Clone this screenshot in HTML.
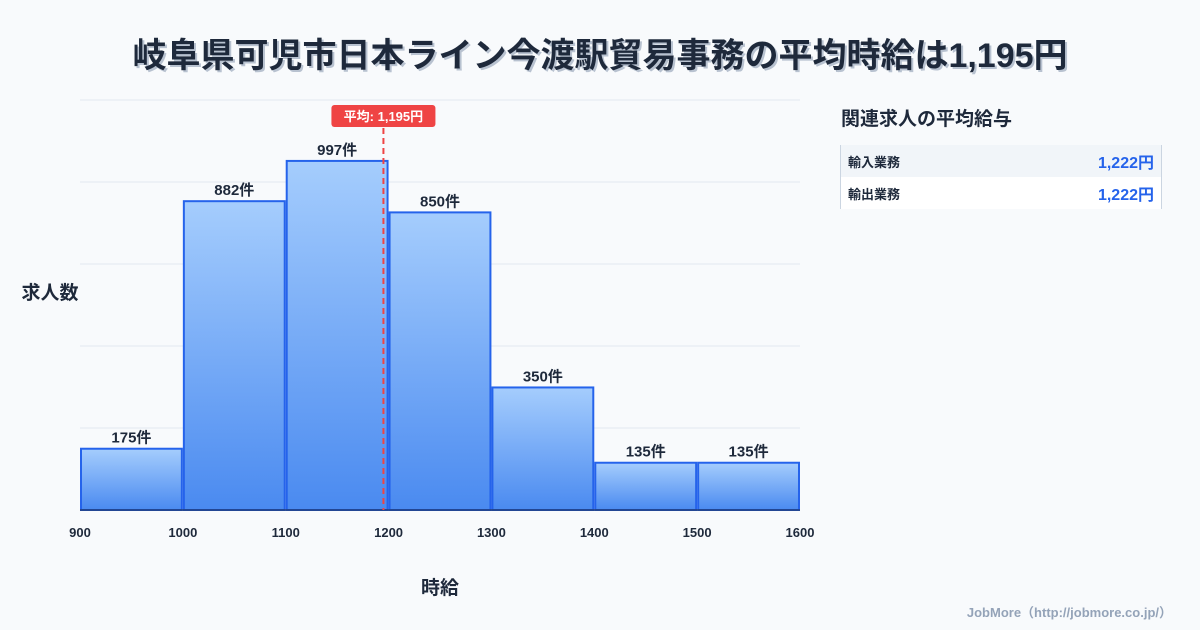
<!DOCTYPE html>
<html><head><meta charset="utf-8">
<style>
body{margin:0;width:1200px;height:630px;background:#f8fafc;font-family:"Liberation Sans","Noto Sans CJK JP",sans-serif;overflow:hidden;position:relative;color:#1e293b}
.title{position:absolute;left:0;width:1200px;top:28px;text-align:center;font-size:34px;font-weight:bold;color:#1e293b;text-shadow:2px 2px 0 #b8c2d0}
.side{position:absolute;left:841px;top:104px;font-size:19px;font-weight:bold}
.tbl{position:absolute;left:840px;top:145px;width:320px;border-left:1px solid #cbd5e1;border-right:1px solid #cbd5e1}
.row{height:32px;display:flex;justify-content:space-between;align-items:center;padding:0 7px;font-size:13px;font-weight:bold}
.row .v{color:#2563eb;font-size:16px}
.foot{position:absolute;right:28px;top:602px;font-size:13px;color:#94a3b8;font-weight:bold}
</style></head><body>
<div class="title">岐阜県可児市日本ライン今渡駅貿易事務の平均時給は1,195円</div>
<div class="side">関連求人の平均給与</div>
<div class="tbl">
<div class="row" style="background:#f1f5f9"><span>輸入業務</span><span class="v">1,222円</span></div>
<div class="row" style="background:#fff"><span>輸出業務</span><span class="v">1,222円</span></div>
</div>
<div class="foot">JobMore（http://jobmore.co.jp/）</div>
<svg id="chart" width="1200" height="630" style="position:absolute;left:0;top:0">
<defs><linearGradient id="g" x1="0" y1="0" x2="0" y2="1"><stop offset="0" stop-color="#a5cdfd"/><stop offset="1" stop-color="#4a8af0"/></linearGradient></defs>
</svg>
<script>
const binStarts=[900,1000,1100,1200,1300,1400,1500];
const counts=[175,882,997,850,350,135,135];
const xTicks=[900,1000,1100,1200,1300,1400,1500,1600];
const meanValue=1195;
const yMax=1171;
const svg=document.getElementById('chart');
const NS='http://www.w3.org/2000/svg';
const x=v=>80+(v-900)*720/700;
const y=v=>510-v*410/yMax;
function mk(t,a,txt){const e=document.createElementNS(NS,t);for(const k in a)e.setAttribute(k,a[k]);if(txt!=null)e.textContent=txt;svg.appendChild(e);return e;}
for(let i=1;i<=5;i++){const gy=510-i*82;
const l=mk('line',{x1:80,x2:800,y1:gy,y2:gy,stroke:'#e2e8f0','stroke-width':1});

}
binStarts.forEach((b,i)=>{
const x0=x(b)+1,x1=x(b+100)-1,yt=y(counts[i]);
const r=mk('rect',{x:x0,y:yt,width:x1-x0,height:510-yt,fill:'url(#g)',stroke:'#2563eb','stroke-width':2});


const t=mk('text',{x:(x0+x1)/2,y:yt-6,'text-anchor':'middle','font-size':15,'font-weight':'bold',fill:'#1e293b'},counts[i]+'件');


});
const ax=mk('line',{x1:80,x2:800,y1:510,y2:510,stroke:'#1e293b','stroke-width':1});


xTicks.forEach(v=>{
const t=mk('text',{x:x(v),y:537,'text-anchor':'middle','font-size':13,'font-weight':'bold',fill:'#1e293b'},String(v));


});
const mx=x(meanValue);
const ml=mk('line',{x1:mx,x2:mx,y1:128,y2:510,stroke:'#ef4444','stroke-width':2,'stroke-dasharray':'6,4'});


const mb=mk('rect',{x:mx-52,y:105,width:104,height:22,rx:3,fill:'#ef4444'});


const mt=mk('text',{x:mx,y:121,'text-anchor':'middle','font-size':13,'font-weight':'bold',fill:'#fff'},'平均: 1,195円');


const yt=mk('text',{x:50,y:299,'text-anchor':'middle','font-size':19,'font-weight':'bold',fill:'#1e293b'},'求人数');


const xt=mk('text',{x:440,y:594,'text-anchor':'middle','font-size':19,'font-weight':'bold',fill:'#1e293b'},'時給');


</script>
</body></html>
